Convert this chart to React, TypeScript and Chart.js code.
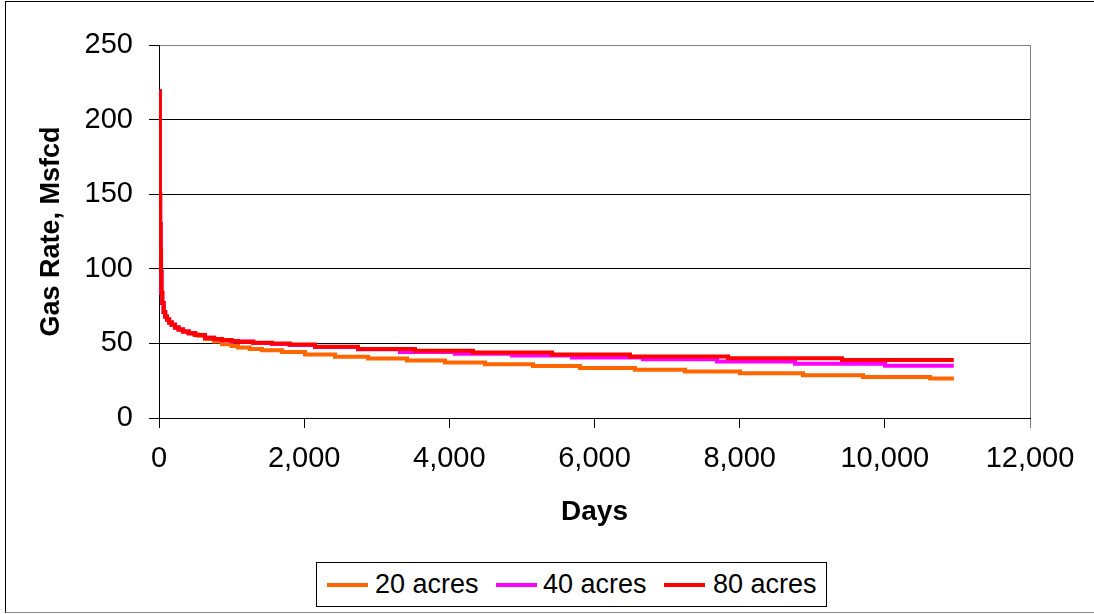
import { useEffect, useRef } from "react";
import { Chart, registerables } from "chart.js";

Chart.register(...registerables);

// Axis ranges
const X_MAX = 12000;
const X_STEP = 2000;
const Y_MAX = 250;
const Y_STEP = 50;

const X_TITLE = "Days";
const Y_TITLE = "Gas Rate, Msfcd";

const SERIES_LABELS = ["20 acres", "40 acres", "80 acres"];
const SERIES_COLORS = ["#FF6600", "#FF00FF", "#FF0000"];

// 20-acre spacing: producing day and gas rate (Msfcd)
const DAYS_20 = [
  10, 12, 16, 22, 28, 34, 45, 64, 85, 110, 140, 175, 220, 270, 330, 409, 480,
  540, 634, 760, 868, 1000, 1088, 1250, 1419, 1695, 2012, 2425, 2880, 3417,
  3940, 4492, 5153, 5800, 6558, 7247, 8005, 8873, 9700, 10623, 10950,
];
const RATE_20 = [
  219, 150, 130, 112, 98, 84, 77, 71, 68, 66, 64, 62.5, 60.6, 59.3, 58, 56.8,
  56, 55.2, 53, 51.2, 49.5, 48.2, 47.3, 46.3, 45.4, 44.3, 42.5, 41.1, 39.8,
  38.5, 37.2, 36.1, 34.9, 33.5, 32.3, 31.2, 30.0, 28.7, 27.5, 26.4, 26.4,
];

// 40-acre spacing
const DAYS_40 = [
  10, 12, 16, 22, 28, 34, 45, 64, 85, 110, 140, 175, 220, 270, 330, 409, 500,
  634, 760, 868, 1000, 1300, 1557, 1800, 2149, 2742, 3320, 4078, 4864, 5690,
  6669, 7688, 8763, 10003, 10950,
];
const RATE_40 = [
  219, 150, 130, 112, 98, 84, 77, 71, 68, 66, 64, 62.5, 60.6, 59.3, 58, 56.8,
  55.7, 53.8, 53, 52.1, 51.3, 50.2, 49.6, 49, 47.6, 46, 44.3, 43.1, 41.9,
  40.5, 39.3, 37.9, 36.4, 35.1, 35.1,
];

// 80-acre spacing
const DAYS_80 = [
  10, 12, 16, 22, 28, 34, 45, 64, 85, 110, 140, 175, 220, 270, 330, 409, 500,
  634, 760, 868, 1000, 1088, 1300, 1557, 1800, 2149, 2742, 3527, 4326, 5415,
  6489, 7840, 9410, 10950,
];
const RATE_80 = [
  219, 150, 130, 112, 98, 84, 77, 71, 68, 66, 64, 62.5, 60.6, 59.3, 58, 56.8,
  55.7, 53.8, 53, 52.3, 51.6, 51.1, 50.5, 50, 49.3, 47.8, 46.2, 45, 43.9,
  42.6, 41.3, 40, 38.8, 38.8,
];

const SERIES_DAYS = [DAYS_20, DAYS_40, DAYS_80];
const SERIES_RATES = [RATE_20, RATE_40, RATE_80];

const FONT_FAMILY = "'Liberation Sans', Arial, Helvetica, sans-serif";

const fmtThousands = (v: number) =>
  Number(v).toLocaleString("en-US", { maximumFractionDigits: 0 });

export default function App() {
  const canvasRef = useRef<HTMLCanvasElement | null>(null);

  useEffect(() => {
    const canvas = canvasRef.current;
    if (!canvas) return;

    const datasets = SERIES_LABELS.map((label, i) => ({
      label,
      data: SERIES_DAYS[i].map((d, k) => ({ x: d, y: SERIES_RATES[i][k] })),
      borderColor: SERIES_COLORS[i],
      backgroundColor: SERIES_COLORS[i],
      borderWidth: 4,
      pointRadius: 0,
      stepped: "before" as const,
      fill: false,
      // later series sit on top
      order: SERIES_LABELS.length - i,
    }));

    const chart = new Chart(canvas, {
      type: "line",
      data: { datasets },
      options: {
        responsive: false,
        animation: false,
        devicePixelRatio: 1,
        events: [],
        layout: { padding: { top: 45, right: 64, bottom: 0, left: 0 } },
        plugins: {
          legend: { display: false },
          tooltip: { enabled: false },
        },
        scales: {
          x: {
            type: "linear",
            min: 0,
            max: X_MAX,
            afterFit: (scale: any) => {
              scale.height = 196;
            },
            ticks: {
              stepSize: X_STEP,
              autoSkip: false,
              maxRotation: 0,
              padding: 14,
              color: "#000",
              font: { family: FONT_FAMILY, size: 29 },
              callback: (v: any) => fmtThousands(v),
            },
            grid: {
              drawOnChartArea: true,
              drawTicks: true,
              tickLength: 10,
              lineWidth: 1,
              color: (ctx: any) =>
                ctx.tick && ctx.tick.value === X_MAX ? "#808080" : "rgba(0,0,0,0)",
              tickColor: (ctx: any) =>
                ctx.tick && ctx.tick.value === X_MAX ? "#808080" : "#000",
            },
            border: { display: true, color: "#000", width: 1 },
            title: {
              display: true,
              text: X_TITLE,
              color: "#000",
              font: { family: FONT_FAMILY, size: 28, weight: "bold" },
              padding: { top: 0, bottom: 85 },
            },
          },
          y: {
            type: "linear",
            min: 0,
            max: Y_MAX,
            afterFit: (scale: any) => {
              scale.width = 159;
            },
            ticks: {
              stepSize: Y_STEP,
              autoSkip: false,
              padding: 16,
              color: "#000",
              font: { family: FONT_FAMILY, size: 29 },
            },
            grid: {
              drawOnChartArea: true,
              drawTicks: true,
              tickLength: 10,
              lineWidth: 1,
              color: (ctx: any) =>
                ctx.tick && ctx.tick.value === Y_MAX ? "#808080" : "#000",
              tickColor: "#000",
            },
            border: { display: true, color: "#000", width: 1 },
            title: {
              display: true,
              text: Y_TITLE,
              color: "#000",
              font: { family: FONT_FAMILY, size: 27, weight: "bold" },
              padding: { top: 35, bottom: 0 },
            },
          },
        },
      },
    });

    return () => chart.destroy();
  }, []);

  const legendLineLeft = [10, 179, 347];
  const legendTextLeft = [58, 226, 396];

  return (
    <div
      style={{
        position: "fixed",
        left: 0,
        top: 0,
        width: 1094,
        height: 614,
        overflow: "hidden",
        background: "#fff",
      }}
    >
      <div
        style={{
          position: "absolute",
          left: 5,
          top: 1,
          width: 1100,
          height: 610,
          borderTop: "1px solid #000",
          borderLeft: "1px solid #000",
          borderBottom: "1px solid #8c8c8c",
        }}
      />
      <canvas
        ref={canvasRef}
        width={1094}
        height={614}
        style={{ position: "absolute", left: 0, top: 0, width: 1094, height: 614 }}
      />
      <div
        style={{
          position: "absolute",
          left: 316,
          top: 562,
          width: 511,
          height: 45,
          boxSizing: "border-box",
          border: "1px solid #000",
          background: "#fff",
          fontFamily: FONT_FAMILY,
          fontSize: 27,
          color: "#000",
        }}
      >
        {SERIES_LABELS.map((label, i) => (
          <div key={label}>
            <div
              style={{
                position: "absolute",
                left: legendLineLeft[i],
                top: 20,
                width: 41,
                height: 4,
                background: SERIES_COLORS[i],
              }}
            />
            <span
              style={{
                position: "absolute",
                left: legendTextLeft[i],
                top: 0,
                lineHeight: "43px",
                whiteSpace: "nowrap",
              }}
            >
              {label}
            </span>
          </div>
        ))}
      </div>
    </div>
  );
}
